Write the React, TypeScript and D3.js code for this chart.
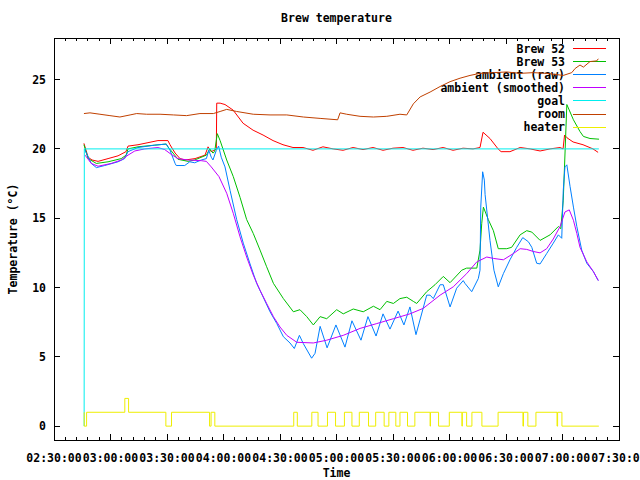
import * as d3 from 'd3';

// Times are elapsed minutes after 02:30:00, values in °C (heater is a 0/1/2 level)
const brew52: [number, number][] = [
  [15.9, 20.4], [17.0, 19.9], [18.1, 19.4], [20.2, 19.2], [23.4, 19.1], [28.7, 19.3], [34.0, 19.5],
  [38.2, 19.8], [39.3, 20.2], [44.6, 20.3], [49.9, 20.45], [55.2, 20.6], [60.5, 20.6], [61.6, 20.3],
  [64.3, 19.7], [66.9, 19.3], [69.6, 19.2], [74.9, 19.3], [80.2, 19.55], [81.8, 20.15], [83.4, 19.8],
  [85.2, 19.9], [86.2, 20.0], [86.4, 23.3], [88.2, 23.3], [90.8, 23.2], [95.1, 22.8], [100.4, 21.85],
  [105.7, 21.35], [111.0, 21.0], [116.3, 20.6], [121.6, 20.3], [126.9, 20.1], [132.2, 20.1],
  [137.5, 19.9], [142.8, 20.15], [148.2, 20.0], [153.5, 19.9], [158.8, 20.1], [164.1, 19.95],
  [169.4, 20.1], [174.7, 19.9], [180.0, 20.05], [185.3, 20.1], [190.6, 19.9], [195.9, 20.05],
  [201.3, 19.95], [206.6, 20.1], [211.9, 19.9], [217.2, 20.05], [222.5, 20.0], [226.2, 20.1],
  [227.8, 21.2], [231.5, 20.75], [235.8, 20.0], [237.4, 19.8], [242.1, 19.8], [247.5, 20.1],
  [252.8, 20.0], [258.1, 19.85], [263.4, 20.0], [268.7, 20.1], [270.3, 20.0], [271.1, 21.0],
  [272.4, 20.8], [275.6, 20.5], [280.9, 20.3], [286.2, 20.0], [288.9, 19.75],
];

const brew53: [number, number][] = [
  [15.9, 20.3], [18.1, 19.3], [22.5, 18.95], [28.7, 19.07], [35.7, 19.3], [38.3, 19.55], [39.3, 20.0],
  [44.6, 20.15], [53.5, 20.27], [59.6, 20.35], [60.5, 20.15], [63.2, 19.7], [65.8, 19.25], [71.2, 19.1],
  [74.7, 19.2], [80.9, 19.55], [82.7, 20.0], [84.4, 19.7], [85.3, 19.8], [86.7, 21.1], [88.2, 20.6],
  [91.7, 19.2], [95.2, 18.0], [98.8, 16.5], [102.3, 14.9], [105.8, 13.9], [109.4, 12.7], [112.9, 11.5],
  [116.5, 10.3], [121.8, 9.2], [127.1, 8.25], [130.6, 8.4], [134.2, 7.9], [137.7, 7.3], [141.3, 7.9],
  [144.8, 7.75], [150.1, 8.4], [153.6, 8.1], [158.9, 8.45], [164.2, 8.25], [169.6, 8.65], [173.1, 8.4],
  [176.7, 9.0], [180.2, 8.85], [183.7, 9.2], [187.3, 9.3], [190.8, 9.0], [192.6, 8.85], [197.9, 9.7],
  [202.3, 10.2], [206.7, 10.8], [210.3, 10.35], [216.5, 11.25], [219.1, 11.4], [224.5, 11.4],
  [226.2, 12.7], [227.1, 14.6], [228.0, 15.8], [230.6, 14.9], [233.3, 14.1], [235.9, 12.8],
  [240.4, 12.8], [243.0, 12.9], [247.5, 13.8], [251.0, 14.1], [253.7, 14.0], [258.1, 13.4],
  [263.4, 13.8], [267.8, 14.4], [269.1, 14.25], [270.4, 16.3], [272.3, 23.2], [275.8, 22.1],
  [279.3, 21.25], [281.1, 20.9], [284.6, 20.75], [289.4, 20.7],
];

const ambientRaw: [number, number][] = [
  [16.1, 20.0], [17.2, 19.7], [19.8, 18.95], [22.5, 18.65], [26.9, 18.8], [34.0, 19.07], [37.5, 19.3],
  [39.3, 19.8], [44.6, 20.1], [53.5, 20.27], [59.6, 20.35], [61.6, 19.9], [64.3, 18.95], [64.9, 18.8],
  [69.4, 18.8], [72.1, 19.07], [74.7, 19.0], [78.2, 19.2], [80.9, 19.3], [82.2, 19.9], [83.5, 19.4],
  [84.4, 19.2], [86.2, 19.9], [87.4, 20.2], [88.8, 19.4], [90.8, 18.7], [93.5, 17.0], [97.0, 14.9],
  [100.5, 13.2], [104.1, 11.7], [107.6, 10.3], [111.1, 9.3], [114.7, 8.25], [118.3, 7.4], [121.8, 6.45],
  [125.3, 6.0], [127.6, 5.6], [130.3, 6.55], [132.4, 5.95], [136.8, 4.9], [138.6, 5.25], [141.3, 7.2],
  [145.0, 5.65], [149.7, 7.3], [154.5, 5.7], [158.2, 7.6], [163.0, 6.2], [166.7, 7.9], [171.0, 6.5],
  [174.7, 8.1], [178.4, 7.0], [182.7, 8.3], [185.8, 7.3], [189.0, 8.6], [192.2, 6.6], [197.9, 9.45],
  [199.7, 9.45], [201.4, 9.2], [205.0, 10.2], [206.7, 10.2], [210.3, 8.6], [213.8, 9.95], [217.3, 10.5],
  [218.2, 10.3], [221.8, 9.7], [225.3, 10.65], [226.2, 11.25], [226.6, 15.8], [227.6, 18.35],
  [228.5, 17.75], [228.9, 16.7], [231.5, 13.4], [233.6, 11.25], [235.9, 10.05], [238.6, 11.0],
  [242.1, 12.0], [245.7, 12.9], [248.9, 13.6], [251.9, 13.3], [253.7, 12.9], [256.3, 11.75],
  [258.1, 11.7], [261.6, 12.45], [265.1, 13.2], [267.8, 13.8], [269.6, 13.55], [270.4, 17.0],
  [271.3, 18.7], [272.3, 18.85], [274.0, 17.3], [275.8, 15.8], [277.6, 14.4], [280.2, 12.7],
  [282.9, 11.75], [286.4, 11.15], [289.0, 10.5],
];

const ambientSmoothed: [number, number][] = [
  [16.5, 19.55], [19.8, 18.95], [23.4, 18.75], [30.4, 18.95], [35.7, 19.2], [39.3, 19.55], [42.9, 19.85],
  [48.2, 20.0], [55.2, 20.1], [58.8, 19.95], [62.3, 19.6], [65.8, 19.3], [71.2, 19.2], [78.2, 19.15],
  [80.9, 19.1], [83.5, 18.7], [87.6, 18.0], [91.7, 16.8], [95.2, 15.35], [98.8, 13.65], [102.3, 12.2],
  [105.8, 10.9], [109.4, 9.8], [112.9, 8.85], [116.5, 7.9], [120.0, 7.15], [123.6, 6.55], [128.9, 6.05],
  [137.7, 6.0], [144.8, 6.2], [153.6, 6.55], [162.5, 7.05], [171.4, 7.4], [180.2, 7.75], [189.0, 8.1],
  [196.1, 8.5], [205.0, 9.45], [212.0, 10.05], [219.1, 11.0], [224.5, 11.85], [229.8, 12.2],
  [233.3, 12.1], [238.6, 12.0], [243.9, 12.45], [247.5, 12.8], [251.0, 12.75], [254.5, 12.6],
  [258.1, 12.5], [261.6, 12.8], [265.1, 13.5], [268.7, 14.4], [271.3, 15.45], [273.6, 15.6],
  [275.8, 14.85], [277.6, 13.9], [279.3, 12.9], [282.9, 11.85], [286.4, 11.15], [289.0, 10.5],
];

const goal: [number, number][] = [[16.0, 0], [16.1, 20], [289.3, 20]];

const room: [number, number][] = [
  [15.9, 22.55], [19.1, 22.6], [24.4, 22.5], [29.7, 22.4], [35.0, 22.3], [40.4, 22.45], [43.9, 22.55],
  [49.2, 22.5], [56.3, 22.5], [63.4, 22.45], [70.4, 22.4], [77.5, 22.55], [84.6, 22.55], [88.2, 22.7],
  [91.7, 22.85], [97.0, 22.7], [105.8, 22.5], [114.7, 22.45], [123.6, 22.45], [132.4, 22.3],
  [141.3, 22.2], [150.6, 22.1], [151.9, 22.6], [155.4, 22.5], [162.5, 22.35], [169.6, 22.3],
  [176.7, 22.35], [183.7, 22.5], [187.3, 22.45], [190.8, 23.25], [194.4, 23.75], [199.7, 24.1],
  [205.0, 24.5], [210.3, 24.85], [215.6, 25.1], [220.9, 25.3], [226.2, 25.45], [233.3, 25.5],
  [240.4, 25.55], [247.5, 25.45], [254.5, 25.5], [261.6, 25.45], [270.4, 25.3], [274.9, 25.5],
  [276.7, 25.8], [279.3, 26.05], [281.1, 25.9], [284.6, 26.3], [288.2, 26.35], [289.0, 26.5],
];

// heater level changes (held until the next entry)
const heater: [number, number][] = [
  [16.0, 1], [16.05, 0], [17.3, 1], [37.6, 2], [39.6, 1], [59.4, 0], [62.4, 1], [82.6, 0], [83.4, 1],
  [85.4, 0], [127.3, 1], [129.2, 0], [136.9, 1], [140.2, 0], [145.2, 1], [149.5, 0], [154.2, 1],
  [158.2, 0], [162.1, 1], [167.0, 0], [170.8, 1], [175.3, 0], [177.8, 1], [181.5, 0], [183.7, 1],
  [187.7, 0], [191.6, 1], [199.7, 0], [199.9, 1], [204.2, 0], [209.9, 1], [216.6, 0], [216.8, 1],
  [219.1, 0], [221.9, 1], [227.2, 0], [235.8, 1], [249.0, 0], [249.3, 1], [251.6, 0], [255.9, 1],
  [267.1, 0], [267.4, 1], [269.7, 0], [289.3, 0],
];

const series = [
  { name: 'Brew 52', color: '#ff0000', data: brew52, step: false },
  { name: 'Brew 53', color: '#00c000', data: brew53, step: false },
  { name: 'ambient (raw)', color: '#0080ff', data: ambientRaw, step: false },
  { name: 'ambient (smoothed)', color: '#c000ff', data: ambientSmoothed, step: false },
  { name: 'goal', color: '#00eeee', data: goal, step: false },
  { name: 'room', color: '#c04000', data: room, step: false },
  { name: 'heater', color: '#eeee00', data: heater, step: true },
];

const W = 640;
const H = 480;
const left = 54;
const right = 619;
const top = 38;
const bottom = 440;
const font = "'DejaVu Sans Mono', 'Liberation Mono', monospace";

const base = new Date(2000, 0, 1, 2, 30, 0).getTime();
const toDate = (m: number) => new Date(base + m * 60000);

export default function App() {
  const x = d3.scaleTime().domain([toDate(0), toDate(300)]).range([left, right]);
  const y = d3.scaleLinear().domain([-1, 28]).range([bottom, top]);

  const majorX = x.ticks(d3.timeMinute.every(30)!);
  const minorX = x.ticks(d3.timeMinute.every(6)!);
  const yTicks = y.ticks(6).filter((v) => v >= 0);
  const fmt = d3.timeFormat('%H:%M:%S');

  const line = d3
    .line<[number, number]>()
    .x((d) => x(toDate(d[0])))
    .y((d) => y(d[1]));
  const stepLine = d3
    .line<[number, number]>()
    .x((d) => x(toDate(d[0])))
    .y((d) => y(d[1]))
    .curve(d3.curveStepAfter);

  const textStyle = { fontFamily: font, fontWeight: 'bold' as const, fontSize: 11.5 };

  return (
    <svg
      width={W}
      height={H}
      style={{ position: 'absolute', left: 0, top: 0, background: '#fff' }}
    >
      <rect x={0} y={0} width={W} height={H} fill="#fff" />

      {/* ticks */}
      <g stroke="#000" strokeWidth={1} shapeRendering="crispEdges">
        {minorX.map((t, i) => (
          <g key={'mx' + i}>
            <line x1={x(t)} x2={x(t)} y1={bottom} y2={bottom - 3} />
            <line x1={x(t)} x2={x(t)} y1={top} y2={top + 3} />
          </g>
        ))}
        {majorX.map((t, i) => (
          <g key={'Mx' + i}>
            <line x1={x(t)} x2={x(t)} y1={bottom} y2={bottom - 6} />
            <line x1={x(t)} x2={x(t)} y1={top} y2={top + 6} />
          </g>
        ))}
        {yTicks.map((v) => (
          <g key={'y' + v}>
            <line x1={left} x2={left + 6} y1={y(v)} y2={y(v)} />
            <line x1={right} x2={right - 6} y1={y(v)} y2={y(v)} />
          </g>
        ))}
      </g>

      {/* tick labels */}
      <g {...textStyle} fill="#000">
        {yTicks.map((v) => (
          <text key={'yl' + v} x={left - 8} y={y(v)} textAnchor="end" dominantBaseline="central">
            {v}
          </text>
        ))}
        {majorX.map((t, i) => (
          <text key={'xl' + i} x={x(t)} y={bottom + 18} textAnchor="middle" dominantBaseline="central">
            {fmt(t)}
          </text>
        ))}
        <text x={(left + right) / 2} y={18} textAnchor="middle" dominantBaseline="central">
          Brew temperature
        </text>
        <text x={(left + right) / 2} y={473} textAnchor="middle" dominantBaseline="central">
          Time
        </text>
        <text
          transform={`translate(13,${(top + bottom) / 2}) rotate(-90)`}
          textAnchor="middle"
          dominantBaseline="central"
        >
          Temperature (°C)
        </text>
      </g>

      {/* legend text */}
      <g {...textStyle} fill="#000">
        {series.map((s, i) => (
          <text key={s.name} x={565} y={48.5 + i * 13.1} textAnchor="end" dominantBaseline="central">
            {s.name}
          </text>
        ))}
      </g>

      {/* series and key samples */}
      {series.map((s, i) => (
        <g key={s.name} stroke={s.color} strokeWidth={1} fill="none">
          <line x1={573} x2={606} y1={48.5 + i * 13.1} y2={48.5 + i * 13.1} shapeRendering="crispEdges" />
          <path d={(s.step ? stepLine : line)(s.data) ?? ''} />
        </g>
      ))}

      {/* frame */}
      <rect
        x={left}
        y={top}
        width={right - left}
        height={bottom - top}
        fill="none"
        stroke="#000"
        strokeWidth={1}
        shapeRendering="crispEdges"
      />
    </svg>
  );
}
